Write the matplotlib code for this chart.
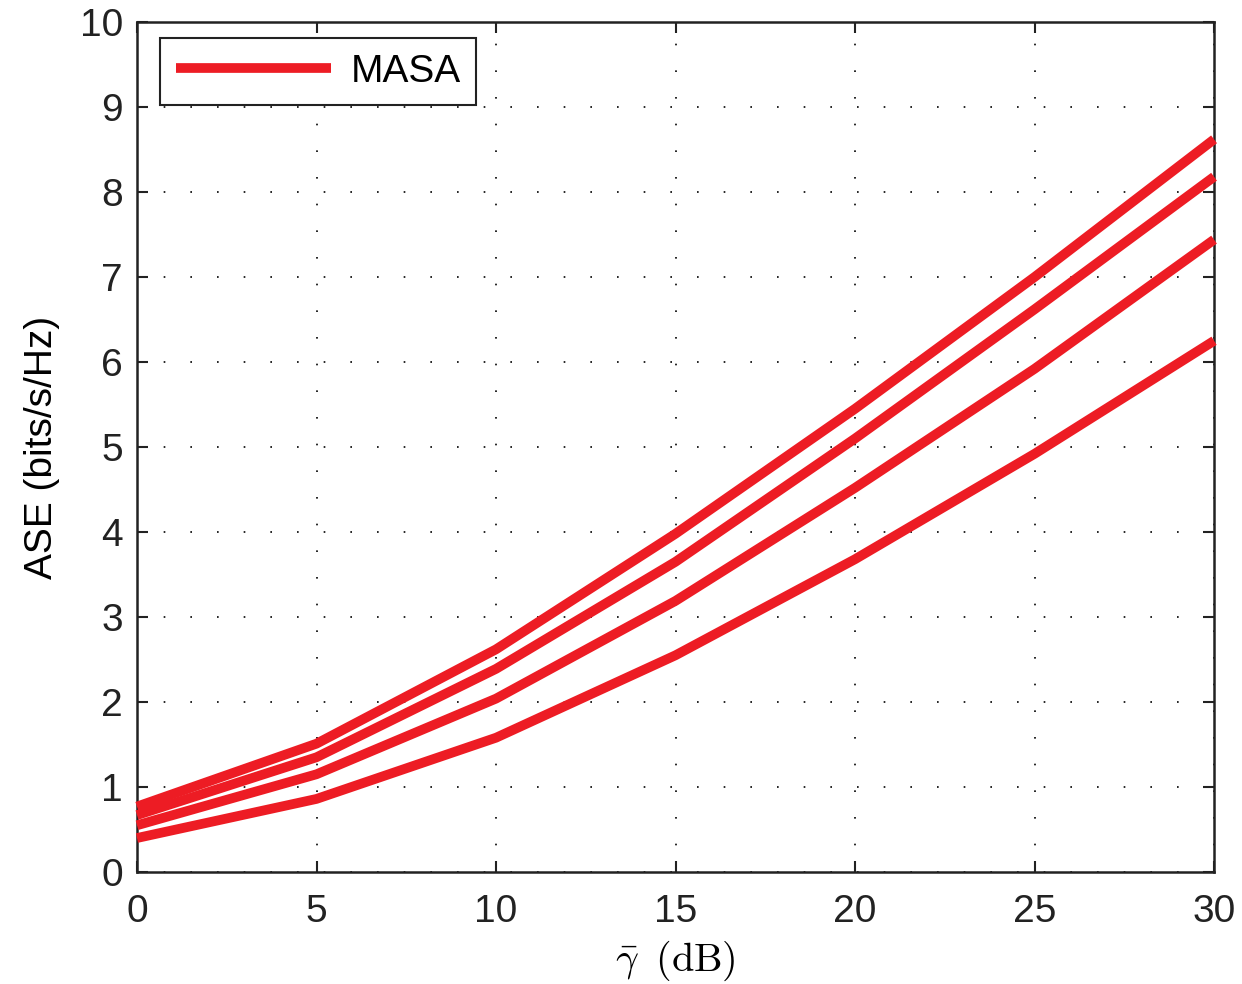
import numpy as np
import matplotlib.pyplot as plt

SNR_DB = [0, 5, 10, 15, 20, 25, 30]
ASE_1 = [0.77, 1.51, 2.62, 3.98, 5.45, 7.00, 8.62]
ASE_2 = [0.67, 1.35, 2.39, 3.65, 5.10, 6.62, 8.18]
ASE_3 = [0.55, 1.15, 2.04, 3.19, 4.52, 5.92, 7.44]
ASE_4 = [0.40, 0.86, 1.58, 2.55, 3.68, 4.92, 6.25]
RED = '#ED1C24'

plt.rcParams['font.family'] = ['Liberation Sans', 'DejaVu Sans']
plt.rcParams['mathtext.fontset'] = 'cm'

fig = plt.figure(figsize=(12.42, 9.84), dpi=100)
ax = fig.add_axes([0.1103, 0.1138, 0.8672, 0.8638])

for i, series in enumerate([ASE_1, ASE_2, ASE_3, ASE_4]):
    ax.plot(SNR_DB, series, color=RED, lw=7, solid_capstyle='butt',
            label='MASA' if i == 0 else None, clip_on=False, zorder=3)

ax.set_xlim(0, 30)
ax.set_ylim(0, 10)
ax.set_xticks(range(0, 31, 5))
ax.set_yticks(range(0, 11))
ax.grid(True, color='black', linestyle=(0, (1, 15)), lw=1.2)
ax.tick_params(direction='in', length=8, width=1.5, labelsize=28,
               top=True, right=True, colors='#222222')
ax.tick_params(axis='x', pad=16)
ax.tick_params(axis='y', pad=10)
for s in ax.spines.values():
    s.set_linewidth(1.8)
    s.set_color('#222222')

ax.set_xlabel(r'$\bar{\gamma}\;\;\mathrm{(dB)}$', fontsize=29, labelpad=6)
ax.set_ylabel('ASE (bits/s/Hz)', fontsize=28, labelpad=14)

leg = ax.legend(loc='upper left', fontsize=28, frameon=True, fancybox=False,
                handlelength=4.0, handletextpad=0.5, borderpad=0.4,
                borderaxespad=0, bbox_to_anchor=(0.0214, 0.981),
                edgecolor='#222222', framealpha=1)
leg.get_frame().set_linewidth(1.5)

fig.savefig('out.png', dpi=100)
